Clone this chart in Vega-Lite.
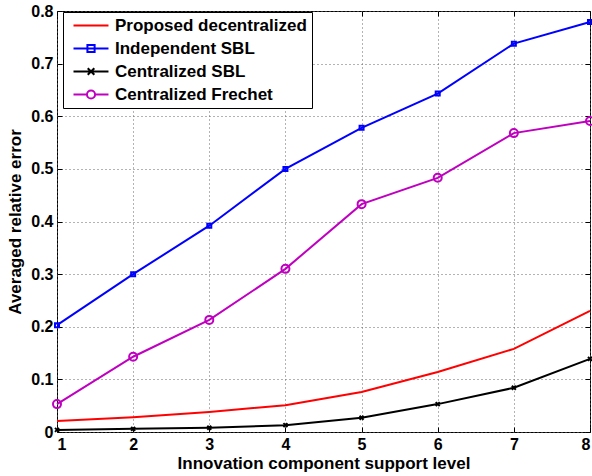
{
  "$schema": "https://vega.github.io/schema/vega-lite/v6.json",
  "width": 533,
  "height": 421,
  "autosize": {"type": "none"},
  "padding": {"left": 57, "top": 11, "right": 2, "bottom": 44},
  "config": {
    "font": "Liberation Sans",
    "view": {"stroke": "black", "strokeWidth": 1},
    "axis": {
      "labelFont": "Liberation Sans",
      "labelFontWeight": "bold",
      "labelFontSize": 16,
      "labelColor": "black",
      "titleFont": "Liberation Sans",
      "titleFontWeight": "bold",
      "titleFontSize": 17,
      "titleColor": "black",
      "domainColor": "black",
      "tickColor": "black",
      "tickSize": -5,
      "labelPadding": 9,
      "gridColor": "#666666",
      "gridDash": [1, 3],
      "gridWidth": 1,
      "gridOpacity": 1
    }
  },
  "data": {
    "values": [
      {"level": 1, "series": "Proposed decentralized", "error": 0.021},
      {"level": 2, "series": "Proposed decentralized", "error": 0.028},
      {"level": 3, "series": "Proposed decentralized", "error": 0.038},
      {"level": 4, "series": "Proposed decentralized", "error": 0.051},
      {"level": 5, "series": "Proposed decentralized", "error": 0.076},
      {"level": 6, "series": "Proposed decentralized", "error": 0.114},
      {"level": 7, "series": "Proposed decentralized", "error": 0.158},
      {"level": 8, "series": "Proposed decentralized", "error": 0.230},
      {"level": 1, "series": "Independent SBL", "error": 0.203},
      {"level": 2, "series": "Independent SBL", "error": 0.300},
      {"level": 3, "series": "Independent SBL", "error": 0.392},
      {"level": 4, "series": "Independent SBL", "error": 0.500},
      {"level": 5, "series": "Independent SBL", "error": 0.578},
      {"level": 6, "series": "Independent SBL", "error": 0.643},
      {"level": 7, "series": "Independent SBL", "error": 0.738},
      {"level": 8, "series": "Independent SBL", "error": 0.779},
      {"level": 1, "series": "Centralized SBL", "error": 0.004},
      {"level": 2, "series": "Centralized SBL", "error": 0.006},
      {"level": 3, "series": "Centralized SBL", "error": 0.008},
      {"level": 4, "series": "Centralized SBL", "error": 0.013},
      {"level": 5, "series": "Centralized SBL", "error": 0.027},
      {"level": 6, "series": "Centralized SBL", "error": 0.053},
      {"level": 7, "series": "Centralized SBL", "error": 0.084},
      {"level": 8, "series": "Centralized SBL", "error": 0.139},
      {"level": 1, "series": "Centralized Frechet", "error": 0.053},
      {"level": 2, "series": "Centralized Frechet", "error": 0.143},
      {"level": 3, "series": "Centralized Frechet", "error": 0.213},
      {"level": 4, "series": "Centralized Frechet", "error": 0.310},
      {"level": 5, "series": "Centralized Frechet", "error": 0.433},
      {"level": 6, "series": "Centralized Frechet", "error": 0.483},
      {"level": 7, "series": "Centralized Frechet", "error": 0.568},
      {"level": 8, "series": "Centralized Frechet", "error": 0.591}
    ]
  },
  "resolve": {"axis": {"x": "independent", "y": "independent"}},
  "layer": [
    {
      "mark": {"type": "line", "strokeWidth": 2},
      "encoding": {
        "x": {"field": "level", "type": "quantitative", "scale": {"domain": [1, 8], "nice": false, "zero": false},
              "axis": {"values": [1, 2, 3, 4, 5, 6, 7, 8], "title": "Innovation component support level", "titlePadding": 3, "domain": false}},
        "y": {"field": "error", "type": "quantitative", "scale": {"domain": [0, 0.8], "nice": false},
              "axis": {"values": [0, 0.1, 0.2, 0.3, 0.4, 0.5, 0.6, 0.7, 0.8], "labelExpr": "datum.value == 0 ? '0' : format(datum.value, '.1f')", "title": "Averaged relative error", "titlePadding": 6, "domain": false}},
        "color": {
          "field": "series", "type": "nominal", "sort": null,
          "scale": {"domain": ["Proposed decentralized", "Independent SBL", "Centralized SBL", "Centralized Frechet"], "range": ["#ff0000", "#0000ff", "#000000", "#bf00bf"]},
          "legend": {
            "orient": "none", "legendX": 6, "legendY": 1, "title": null,
            "strokeColor": "black", "fillColor": "white", "padding": 5,
            "labelFont": "Liberation Sans", "labelFontWeight": "bold", "labelFontSize": 17, "labelColor": "black", "labelLimit": 400,
            "symbolSize": 144, "symbolStrokeWidth": 2, "symbolFillColor": "transparent", "labelOffset": 30, "rowPadding": 5,
            "encode": {
              "symbols": {
                "update": {
                  "shape": {"signal": "datum.value == 'Independent SBL' ? 'M-0.5,0H5.33M1.82,-0.6H3.02V0.6H1.82Z' : datum.value == 'Centralized SBL' ? 'M-0.5,0H5.33M1.87,-0.55L2.97,0.55M1.87,0.55L2.97,-0.55' : datum.value == 'Centralized Frechet' ? 'M-0.5,0H1.74M3.1,0H5.33M3.1,0A0.68,0.68 0 1 1 1.74,0A0.68,0.68 0 1 1 3.1,0' : 'M-0.5,0H5.33'"},
                  "fill": {"value": "transparent"}
                }
              }
            }
          }
        }
      }
    },
    {
      "transform": [{"filter": "datum.series != 'Proposed decentralized'"}],
      "mark": {"type": "point", "filled": false, "strokeWidth": 2, "opacity": 1},
      "encoding": {
        "x": {"field": "level", "type": "quantitative", "axis": null},
        "y": {"field": "error", "type": "quantitative", "axis": null},
        "color": {"field": "series", "type": "nominal", "sort": null},
        "shape": {"field": "series", "type": "nominal", "legend": null,
                  "scale": {"domain": ["Independent SBL", "Centralized SBL", "Centralized Frechet"], "range": ["M-0.5,-0.5H0.5V0.5H-0.5Z", "M-0.5,-0.5L0.5,0.5M-0.5,0.5L0.5,-0.5", "circle"]}},
        "size": {"field": "series", "type": "nominal", "legend": null,
                 "scale": {"domain": ["Independent SBL", "Centralized SBL", "Centralized Frechet"], "range": [64, 64, 75]}}
      }
    },
    {
      "mark": {"type": "line", "opacity": 0},
      "encoding": {
        "x": {"field": "level", "type": "quantitative", "axis": {"orient": "top", "values": [1, 2, 3, 4, 5, 6, 7, 8], "labels": false, "grid": false, "title": null, "domain": false}},
        "y": {"field": "error", "type": "quantitative", "axis": {"orient": "right", "values": [0, 0.1, 0.2, 0.3, 0.4, 0.5, 0.6, 0.7, 0.8], "labels": false, "grid": false, "title": null, "domain": false}},
        "detail": {"field": "series"}
      }
    }
  ]
}
